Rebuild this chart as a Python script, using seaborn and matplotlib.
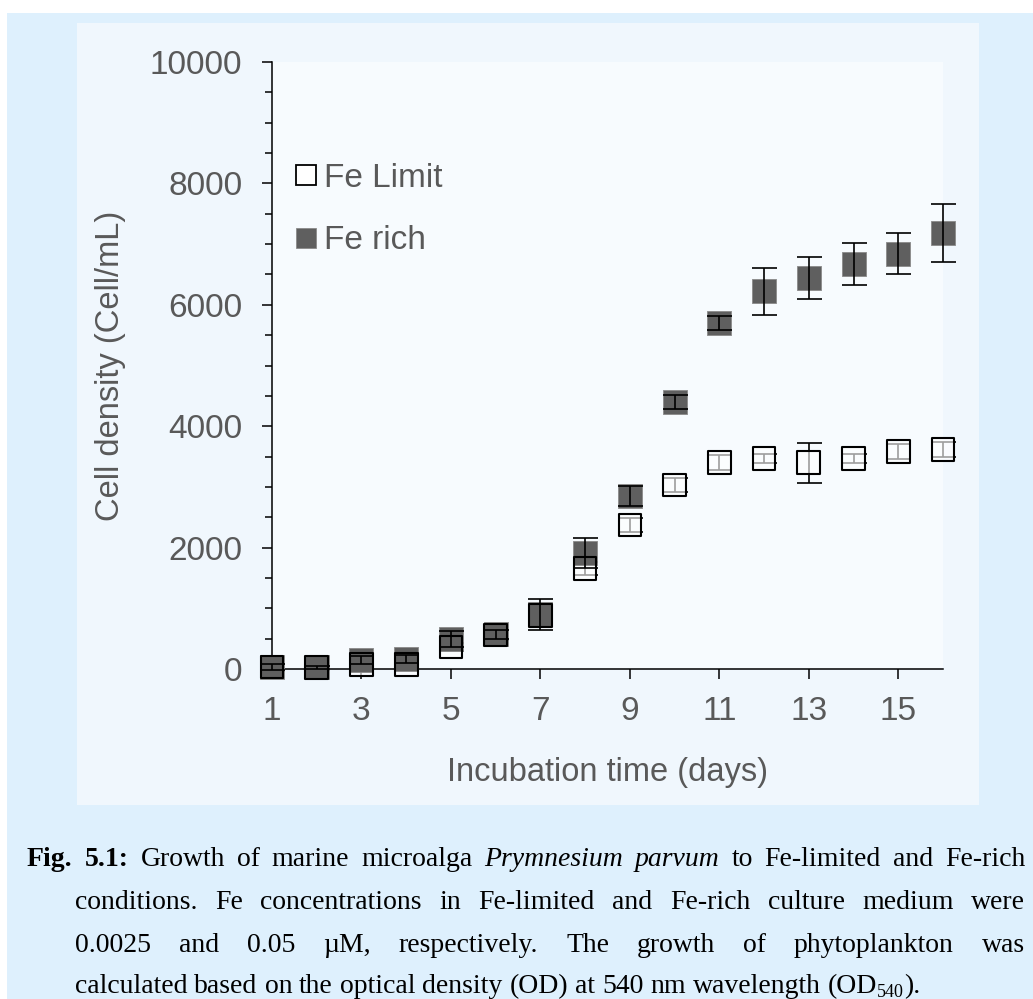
import matplotlib
matplotlib.use("Agg")
import matplotlib.pyplot as plt
from matplotlib.patches import Rectangle
from matplotlib.lines import Line2D
from matplotlib.ticker import MultipleLocator
import numpy as np
import pandas as pd
import seaborn as sns

# ---- data: cell density (cells/mL) over 16 days of incubation ----
days = list(range(1, 17))
fe_limit = [30, 20, 70, 75, 360, 560, 880, 1660, 2370, 3030, 3400, 3470, 3400, 3470, 3580, 3620]
fe_limit_sd = [60, 30, 80, 70, 70, 80, 150, 110, 110, 115, 120, 80, 330, 80, 125, 125]
fe_rich = [40, 25, 150, 165, 500, 570, 900, 1910, 2850, 4400, 5700, 6220, 6440, 6670, 6840, 7180]
fe_rich_sd = [50, 20, 60, 60, 130, 80, 260, 250, 170, 115, 120, 390, 340, 340, 340, 480]
series_names = ["Fe Limit", "Fe rich"]
x_ticks = [1, 3, 5, 7, 9, 11, 13, 15]
y_ticks = [0, 2000, 4000, 6000, 8000, 10000]

df = pd.DataFrame({
    "day": days * 2,
    "density": fe_limit + fe_rich,
    "sd": fe_limit_sd + fe_rich_sd,
    "condition": [series_names[0]] * len(days) + [series_names[1]] * len(days),
})
lim = df[df["condition"] == series_names[0]]
rich = df[df["condition"] == series_names[1]]

sns.set_theme(style="ticks")
plt.rcParams["font.family"] = ["Liberation Sans", "DejaVu Sans"]

W, H = 1033, 999
fig = plt.figure(figsize=(W / 100, H / 100), dpi=100)
fig.patch.set_facecolor("white")


def fx(x):
    return x / W


def fy(y):
    return 1 - y / H


# page and panel backgrounds
fig.patches.append(Rectangle((fx(7), 0), 1 - fx(7), fy(13), transform=fig.transFigure,
                             facecolor="#def0fd", edgecolor="none", zorder=-10))
fig.patches.append(Rectangle((fx(77), fy(805)), fx(979) - fx(77), fy(23) - fy(805),
                             transform=fig.transFigure, facecolor="#f0f7fd",
                             edgecolor="none", zorder=-9))

ax = fig.add_axes([fx(272), fy(669), fx(943) - fx(272), fy(62) - fy(669)])
ax.set_facecolor("#f7fbfe")

GRAY_TXT = "#595959"
MARK_SIZE = 285
TXT = 24

# Fe-limited: error bars under a translucent white square
eb = ax.errorbar(lim["day"], lim["density"], yerr=lim["sd"], fmt="none", ecolor="black",
                 elinewidth=1.2, capsize=9, capthick=1.2, zorder=2)
for a in list(eb.lines[1]) + list(eb.lines[2]):
    a.set_clip_on(False)
sns.scatterplot(data=lim, x="day", y="density", marker="s", s=MARK_SIZE, color="white",
                linewidth=0, ax=ax, zorder=3, legend=False, clip_on=False)
ax.collections[-1].set_facecolor((1, 1, 1, 0.62))

# Fe-rich: solid gray squares with black error bars
sns.scatterplot(data=rich, x="day", y="density", marker="s", s=MARK_SIZE, color="#5f5f5f",
                edgecolor="#8a8a8a", linewidth=0.6, ax=ax, zorder=4, legend=False, clip_on=False)
eb2 = ax.errorbar(rich["day"], rich["density"], yerr=rich["sd"], fmt="none", ecolor="black",
                  elinewidth=1.2, capsize=9, capthick=1.2, zorder=5)
for a in list(eb2.lines[1]) + list(eb2.lines[2]):
    a.set_clip_on(False)

# Fe-limited square outlines on top
sns.scatterplot(data=lim, x="day", y="density", marker="s", s=MARK_SIZE - 20, color="black",
                edgecolor="black", linewidth=1.5, ax=ax, zorder=6, legend=False, clip_on=False)
ax.collections[-1].set_facecolor("none")

ax.set_xlim(1, 16)
ax.set_ylim(0, 10000)
ax.set_xticks(x_ticks)
ax.set_yticks(y_ticks)
ax.yaxis.set_minor_locator(MultipleLocator(500))
ax.set_xticklabels([str(t) for t in x_ticks])
ax.set_yticklabels([str(t) for t in y_ticks])
ax.tick_params(axis="both", which="major", direction="out", length=7.5, width=1.1,
               color="black", labelsize=TXT, labelcolor=GRAY_TXT)
ax.tick_params(axis="x", which="major", pad=12)
ax.tick_params(axis="y", which="major", pad=14)
ax.tick_params(axis="y", which="minor", direction="out", length=5, width=1.1, color="black")
for s in ["top", "right"]:
    ax.spines[s].set_visible(False)
for s in ["left", "bottom"]:
    ax.spines[s].set_color("black")
    ax.spines[s].set_linewidth(1.1)

ax.set_xlabel("Incubation time (days)", fontsize=23.5, color=GRAY_TXT, va="center")
ax.set_ylabel("Cell density (Cell/mL)", fontsize=23.5, color=GRAY_TXT, va="center")
ax.xaxis.set_label_coords(0.5, -0.1713)
ax.yaxis.set_label_coords(-0.2414, 0.5)

handles = [
    Line2D([], [], marker="s", linestyle="none", markersize=15, markerfacecolor="white",
           markeredgecolor="black", markeredgewidth=1.3),
    Line2D([], [], marker="s", linestyle="none", markersize=15, markerfacecolor="#5f5f5f",
           markeredgecolor="#8a8a8a", markeredgewidth=0.6),
]
ax.legend(handles, series_names, loc="upper left", bbox_to_anchor=(0.036, 0.834),
          frameon=False, fontsize=TXT, handlelength=0.6, handletextpad=0.25,
          labelspacing=0.95, borderpad=0, borderaxespad=0, labelcolor=GRAY_TXT)

# ---- figure caption, justified like a typeset paragraph ----
CAP = 20
B = {"weight": "bold"}
I = {"style": "italic"}
N = {}


def words(s, kw=N):
    return [[(w, kw)] for w in s.split()]


cap_lines = [
    (words("Fig. 5.1:", B) + words("Growth of marine microalga") + words("Prymnesium parvum", I)
     + words("to Fe-limited and Fe-rich"), 27, 1025, 866, True),
    (words("conditions. Fe concentrations in Fe-limited and Fe-rich culture medium were"),
     75, 1025, 909, True),
    (words("0.0025 and 0.05 \u00b5M, respectively. The growth of phytoplankton was"),
     75, 1025, 952, True),
    (words("calculated based on the optical density (OD) at 540 nm wavelength")
     + [[("(OD", N), ("540", {"size": 13, "dy": 4}), (").", N)]], 75, 1025, 993, False),
]

renderer = fig.canvas.get_renderer()
for wl, x0, x1, yb, justify in cap_lines:
    placed = []
    widths = []
    for word in wl:
        parts = []
        w = 0.0
        for txt, kw in word:
            t = fig.text(0, 0, txt, fontsize=kw.get("size", CAP), family="Liberation Serif",
                         weight=kw.get("weight", "normal"), style=kw.get("style", "normal"),
                         ha="left", va="baseline", color="black")
            parts.append((t, w, kw.get("dy", 0)))
            w += t.get_window_extent(renderer).width
        placed.append(parts)
        widths.append(w)
    if justify:
        gap = (x1 - x0 - sum(widths)) / (len(wl) - 1)
    else:
        gap = 0.25 * CAP * 100 / 72
    x = x0
    for parts, w in zip(placed, widths):
        for t, off, dy in parts:
            t.set_position((fx(x + off), fy(yb + dy)))
        x += w + gap

fig.savefig("out.png", dpi=100, facecolor=fig.get_facecolor())
